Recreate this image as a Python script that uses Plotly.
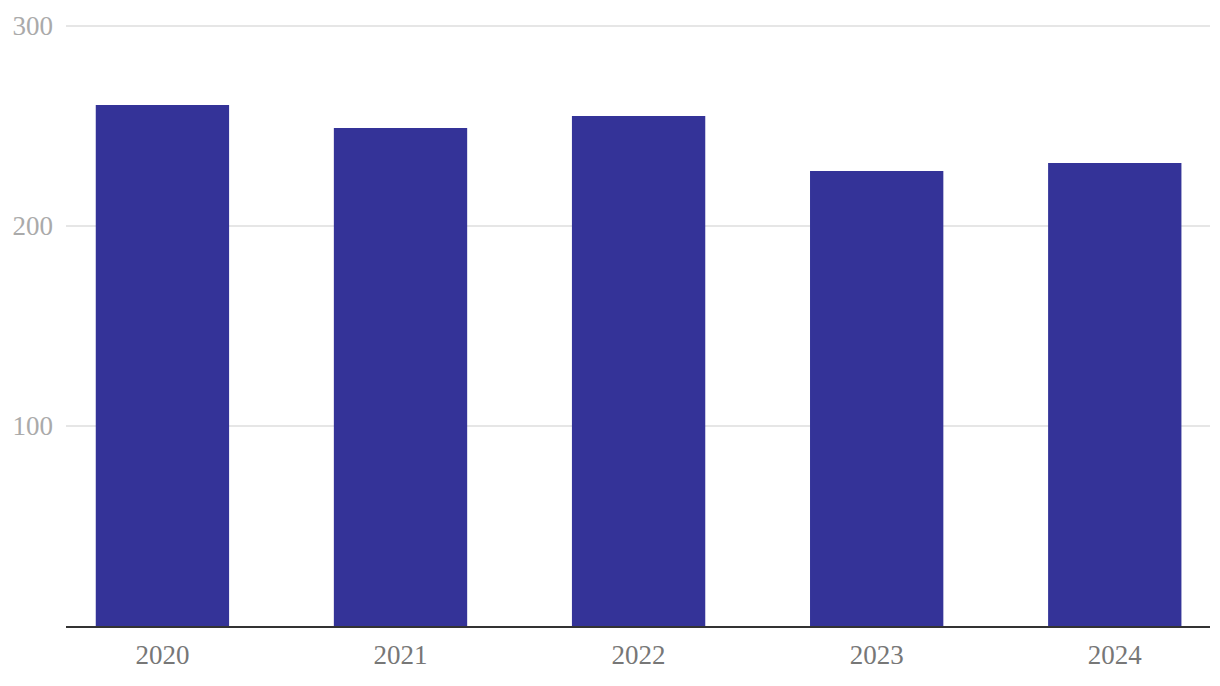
import plotly.graph_objects as go

years = ["2020", "2021", "2022", "2023", "2024"]
values = [260.5, 249, 255, 227.5, 231.5]
y_ticks = [100, 200, 300]

fig = go.Figure(go.Bar(x=years, y=values, marker_color="#343398", marker_line_width=0, width=0.56))

fig.update_layout(
    width=1204, height=670,
    margin=dict(l=58, r=2, t=14, b=52),
    plot_bgcolor="white", paper_bgcolor="white",
    showlegend=False,
    font=dict(family="Liberation Serif", size=27),
)
fig.update_xaxes(
    range=[-0.405, 4.40],
    showline=True, linecolor="#333333", linewidth=2,
    tickfont=dict(color="#777777", size=27),
    ticks="", ticklabelstandoff=4,
)
fig.update_yaxes(
    range=[0, 302], tickvals=y_ticks,
    showgrid=True, gridcolor="#e6e6e6", gridwidth=2,
    zeroline=False,
    tickfont=dict(color="#aaaaaa", size=27),
    ticks="", ticklabelstandoff=12,
)
fig.write_html("out.html")
